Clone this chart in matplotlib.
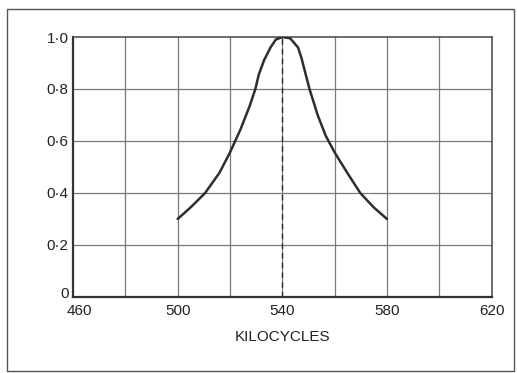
import matplotlib.pyplot as plt
from matplotlib.patches import Rectangle
from matplotlib.transforms import ScaledTranslation
import numpy as np

# response curve (kilocycles, relative response)
freq = [500, 505, 510.5, 516, 520, 524, 527.5, 529.7, 531, 533, 535.5, 537.5, 540,
        543, 546, 547.3, 549.1, 550.4, 553.5, 556.6, 560, 564.8, 569.8, 574.8, 580]
resp = [0.30, 0.345, 0.40, 0.478, 0.556, 0.644, 0.734, 0.80, 0.855, 0.91, 0.96, 0.99, 1.0,
        0.995, 0.96, 0.92, 0.85, 0.80, 0.70, 0.62, 0.556, 0.478, 0.40, 0.346, 0.30]

x_ticks = [460, 500, 540, 580, 620]
y_ticks = [0, 0.2, 0.4, 0.6, 0.8, 1.0]
y_labels = ['0', '0·2', '0·4', '0·6', '0·8', '1·0']
centre = 540

plt.rcParams['font.family'] = ['Liberation Sans', 'DejaVu Sans']

fig = plt.figure(figsize=(5.17, 3.73), dpi=100)
ax = fig.add_axes([0.1412, 0.2038, 0.8097, 0.697])

# grid every 20 kc and 0.2
for gx in np.arange(480, 620, 20):
    ax.axvline(gx, color='#7a7a7a', lw=0.9, zorder=1)
for gy in np.arange(0.2, 1.0, 0.2):
    ax.axhline(gy, color='#7a7a7a', lw=0.9, zorder=1)

ax.plot(freq, resp, color='#2e2e2e', lw=1.8, zorder=3,
        solid_joinstyle='round', solid_capstyle='round')
ax.plot([centre, centre], [0, 1.0], color='#2e2e2e', lw=1.0, ls=(0, (4, 3)), zorder=2)

ax.set_xlim(460, 620)
ax.set_ylim(0, 1.0)
ax.set_xticks(x_ticks)
ax.set_yticks(y_ticks)
ax.set_yticklabels(y_labels)
ax.tick_params(length=0, labelsize=11, colors='#222222')
ax.tick_params(axis='y', pad=3)
ax.tick_params(axis='x', pad=5)
ax.set_xlabel('KILOCYCLES', fontsize=11, color='#222222', labelpad=9)

# nudge the two corner labels apart
lab0 = ax.get_yticklabels()[0]
lab0.set_transform(lab0.get_transform() + ScaledTranslation(0, 4 / 100, fig.dpi_scale_trans))
lab460 = ax.get_xticklabels()[0]
lab460.set_transform(lab460.get_transform() + ScaledTranslation(6 / 100, 0, fig.dpi_scale_trans))

for side in ['left', 'bottom']:
    ax.spines[side].set_linewidth(1.6)
    ax.spines[side].set_color('#333333')
for side in ['top', 'right']:
    ax.spines[side].set_linewidth(1.1)
    ax.spines[side].set_color('#444444')

# outer border of the figure
fig.patches.append(Rectangle((7 / 517, 2 / 373), 507 / 517, 362 / 373,
                             transform=fig.transFigure, fill=False,
                             edgecolor='#555555', lw=1.0))

fig.savefig('out.png', dpi=100)
